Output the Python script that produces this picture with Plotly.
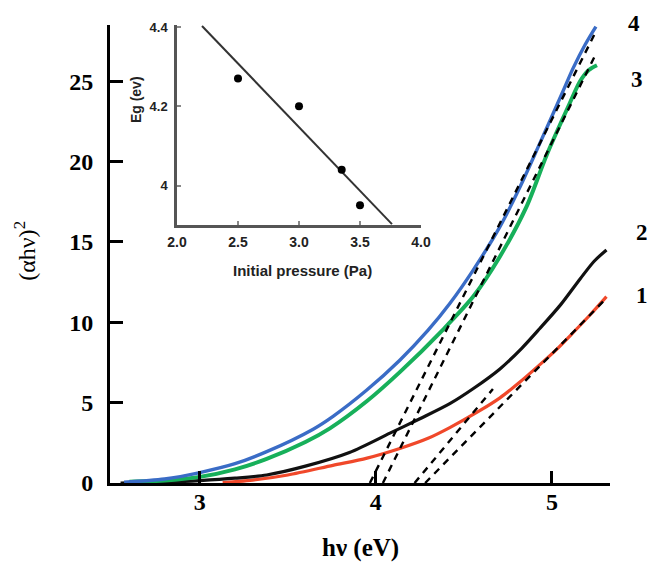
import plotly.graph_objects as go

# ---- main chart data: (alpha h nu)^2 vs h nu ----
x4 = [2.57, 2.8, 3.0, 3.2, 3.38, 3.644, 3.757, 3.947, 4.136, 4.297, 4.42, 4.553, 4.705, 4.818, 4.93, 5.06, 5.12, 5.19, 5.25]
y4 = [0.05, 0.25, 0.65, 1.2, 1.95, 3.35, 4.15, 5.77, 7.64, 9.51, 11.17, 13.25, 15.95, 18.4, 21.1, 24.3, 25.8, 27.3, 28.4]

x3 = [2.6, 2.8, 3.0, 3.2, 3.38, 3.6, 3.739, 3.95, 4.136, 4.382, 4.553, 4.705, 4.856, 4.97, 5.1, 5.16, 5.21, 5.256]
y3 = [0.08, 0.15, 0.38, 0.85, 1.5, 2.55, 3.4, 5.1, 6.9, 9.55, 11.6, 14.1, 17.2, 20.4, 23.6, 25.0, 25.7, 26.0]

x2 = [2.55, 2.8, 3.0, 3.2, 3.38, 3.6, 3.85, 4.08, 4.25, 4.42, 4.55, 4.705, 4.83, 4.93, 5.05, 5.16, 5.24, 5.31]
y2 = [0.0, 0.05, 0.15, 0.3, 0.5, 1.05, 1.9, 3.1, 4.0, 4.94, 5.85, 7.1, 8.4, 9.6, 11.1, 12.7, 13.8, 14.5]

x1 = [3.13, 3.3, 3.5, 3.756, 3.95, 4.136, 4.3, 4.42, 4.59, 4.705, 4.82, 4.93, 5.03, 5.12, 5.22, 5.31]
y1 = [0.02, 0.18, 0.5, 1.1, 1.55, 2.15, 2.8, 3.45, 4.5, 5.3, 6.3, 7.35, 8.35, 9.35, 10.5, 11.6]

# tangent (Tauc) lines: x-intercept and end point for curves 4, 3, 2, 1
tan_x0 = [3.966, 4.04, 4.22, 4.28]
tan_x1 = [5.25, 5.25, 4.665, 5.31]
tan_y1 = [28.1, 26.7, 5.85, 11.5]

curve_labels = ["4", "3", "2", "1"]

# ---- inset data: Eg vs initial pressure ----
pressure = [2.5, 3.0, 3.35, 3.5]
eg = [4.27, 4.20, 4.04, 3.95]
fit_x = [2.205, 3.762]
fit_y = [4.4025, 3.9025]
inset_xticks = [2.0, 2.5, 3.0, 3.5, 4.0]
inset_xticktext = ["2.0", "2.5", "3.0", "3.5", "4.0"]
inset_yticks = [4.0, 4.2, 4.4]
inset_yticktext = ["4", "4.2", "4.4"]

main_xticks = [3, 4, 5]
main_yticks = [0, 5, 10, 15, 20, 25]

colors = {"4": "#3a6cc6", "3": "#17b05a", "2": "#111111", "1": "#f0482a"}

fig = go.Figure()

for xs, ys, name, w in [(x1, y1, "1", 3.2), (x2, y2, "2", 3.2), (x3, y3, "3", 4.0), (x4, y4, "4", 3.4)]:
    fig.add_trace(go.Scatter(x=xs, y=ys, mode="lines", line=dict(color=colors[name], width=w, shape="spline", smoothing=0.8),
                             showlegend=False, hoverinfo="skip"))

for a, b, c in zip(tan_x0, tan_x1, tan_y1):
    fig.add_trace(go.Scatter(x=[a, b], y=[0, c], mode="lines", line=dict(color="black", width=2.4, dash="7px,6px"),
                             showlegend=False, hoverinfo="skip"))

# inset
fig.add_trace(go.Scatter(x=fit_x, y=fit_y, mode="lines", line=dict(color="#333333", width=2),
                         xaxis="x2", yaxis="y2", showlegend=False, hoverinfo="skip"))
fig.add_trace(go.Scatter(x=pressure, y=eg, mode="markers", marker=dict(color="black", size=8),
                         xaxis="x2", yaxis="y2", showlegend=False, hoverinfo="skip"))

serif_b = dict(family="Liberation Serif", size=24, color="black", weight="bold")
sans_b = dict(family="Liberation Sans", size=14, color="#222222", weight="bold")

# the page body has an 8px default margin, so the figure is sized to fit the window
fig.update_layout(
    width=658, height=557,
    margin=dict(l=102, r=56, t=17, b=82, autoexpand=False),
    paper_bgcolor="white", plot_bgcolor="white",
    xaxis=dict(range=[2.49, 5.33], tickvals=main_xticks, ticks="inside", ticklen=12, tickwidth=3, tickcolor="black",
               showline=True, linewidth=3, linecolor="black", showgrid=False, zeroline=False,
               tickfont=serif_b, ticklabelstandoff=-5),
    yaxis=dict(range=[0, 28.5], tickvals=main_yticks, ticks="inside", ticklen=13, tickwidth=3, tickcolor="black",
               showline=True, linewidth=3, linecolor="black", showgrid=False, zeroline=False,
               tickfont=serif_b, ticklabelstandoff=9),
    xaxis2=dict(domain=[0.134, 0.622], anchor="y2", range=[2.0, 4.0], tickvals=inset_xticks, ticktext=inset_xticktext,
                ticks="inside", ticklen=4, tickwidth=1.5, tickcolor="#888888",
                showline=True, linewidth=2.5, linecolor="#555555", showgrid=False, zeroline=False,
                tickfont=sans_b, ticklabelstandoff=2),
    yaxis2=dict(domain=[0.563, 1.0], anchor="x2", range=[3.9, 4.405], tickvals=inset_yticks, ticktext=inset_yticktext,
                ticks="inside", ticklen=4, tickwidth=1.5, tickcolor="#888888",
                showline=True, linewidth=2.5, linecolor="#555555", showgrid=False, zeroline=False,
                tickfont=dict(family="Liberation Sans", size=13, color="#222222", weight="bold"), ticklabelstandoff=4),
)

common = dict(xref="paper", yref="paper", showarrow=False, xanchor="center", yanchor="middle")
annotations = [
    dict(text="(αhν)<sup>2</sup>", x=-0.17, y=0.507, textangle=-90,
         font=dict(family="Liberation Serif", size=24, color="black"), **common),
    dict(text="hν (eV)", x=0.5, y=-0.142,
         font=dict(family="Liberation Serif", size=25, color="black", weight="bold"), **common),
    dict(text="Initial pressure (Pa)", x=0.384, y=0.465,
         font=dict(family="Liberation Sans", size=15, color="#222222", weight="bold"), **common),
    dict(text="Eg (ev)", x=0.052, y=0.836, textangle=-90,
         font=dict(family="Liberation Sans", size=14, color="#222222", weight="bold"), **common),
]
label_pos = [(1.048, 1.003), (1.054, 0.88), (1.064, 0.548), (1.064, 0.41)]
for lab, (px, py) in zip(curve_labels, label_pos):
    annotations.append(dict(text=lab, x=px, y=py,
                            font=dict(family="Liberation Serif", size=23, color="black", weight="bold"), **common))
fig.update_layout(annotations=annotations)

fig.write_html("out.html")
